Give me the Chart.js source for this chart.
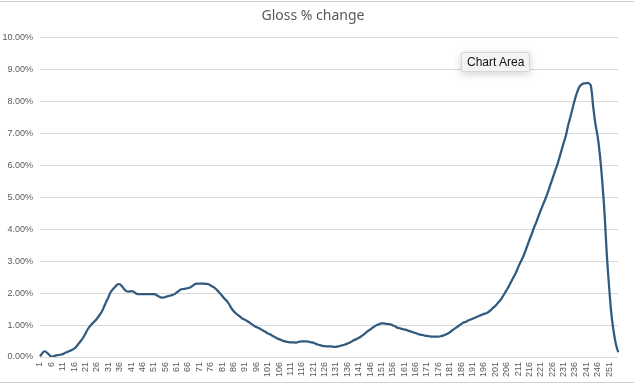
<!DOCTYPE html>
<html>
<head>
<meta charset="utf-8">
<script src="https://cdn.jsdelivr.net/npm/chart.js@4.4.1/dist/chart.umd.min.js"></script>
<style>
  html, body { margin: 0; padding: 0; background: #fff; }
  #wrap { position: relative; width: 634px; height: 384px; overflow: hidden; }
  #frame { position: absolute; left: -2px; top: 1px; width: 640px; height: 380px; border: 1px solid #cfcfcf; }
  #tip {
    position: absolute; left: 461px; top: 52px; padding: 2px 5px;
    font: 12px "Liberation Sans", Arial, sans-serif; color: #111;
    background: #f4f4f4; border: 1px solid #d6d6d6; border-radius: 2px;
    box-shadow: 0 2px 8px rgba(0,0,0,0.18);
  }
</style>
</head>
<body>
<div id="wrap">
  <div id="frame"></div>
  <canvas id="c" width="634" height="384"></canvas>
  <div id="tip">Chart Area</div>
</div>
<script>
// gloss % change (values in percent)
const glossPct = [
  0.02, 0.12, 0.18, 0.14, 0.07, 0.01, 0.02, 0.05, 0.06, 0.07,
  0.09, 0.13, 0.16, 0.19, 0.22, 0.26, 0.33, 0.42, 0.51, 0.61,
  0.74, 0.87, 0.97, 1.05, 1.12, 1.20, 1.30, 1.40, 1.55, 1.72,
  1.86, 2.03, 2.12, 2.20, 2.27, 2.28, 2.22, 2.12, 2.06, 2.05,
  2.06, 2.05, 2.00, 1.97, 1.97, 1.97, 1.97, 1.97, 1.97, 1.97,
  1.97, 1.95, 1.90, 1.87, 1.86, 1.88, 1.90, 1.92, 1.94, 1.97,
  2.02, 2.07, 2.12, 2.13, 2.14, 2.16, 2.18, 2.23, 2.28, 2.30,
  2.30, 2.30, 2.30, 2.29, 2.28, 2.24, 2.20, 2.15, 2.08, 2.00,
  1.92, 1.83, 1.76, 1.66, 1.54, 1.44, 1.37, 1.31, 1.26, 1.20,
  1.17, 1.13, 1.08, 1.03, 0.98, 0.94, 0.91, 0.87, 0.83, 0.79,
  0.74, 0.71, 0.67, 0.63, 0.59, 0.56, 0.53, 0.50, 0.48, 0.47,
  0.46, 0.46, 0.45, 0.46, 0.48, 0.49, 0.49, 0.49, 0.48, 0.46,
  0.45, 0.42, 0.39, 0.37, 0.35, 0.34, 0.33, 0.33, 0.33, 0.32,
  0.32, 0.33, 0.35, 0.37, 0.39, 0.42, 0.45, 0.49, 0.53, 0.56,
  0.60, 0.64, 0.69, 0.75, 0.81, 0.86, 0.91, 0.96, 1.00, 1.03,
  1.05, 1.05, 1.04, 1.03, 1.02, 0.99, 0.96, 0.92, 0.90, 0.88,
  0.86, 0.85, 0.82, 0.80, 0.77, 0.75, 0.72, 0.70, 0.69, 0.67,
  0.66, 0.65, 0.64, 0.64, 0.64, 0.64, 0.65, 0.67, 0.70, 0.73,
  0.77, 0.83, 0.88, 0.93, 0.98, 1.03, 1.08, 1.10, 1.14, 1.17,
  1.20, 1.23, 1.26, 1.29, 1.32, 1.35, 1.37, 1.41, 1.47, 1.54,
  1.60, 1.68, 1.76, 1.86, 1.98, 2.10, 2.22, 2.36, 2.50, 2.63,
  2.80, 2.96, 3.10, 3.28, 3.47, 3.67, 3.85, 4.05, 4.22, 4.42,
  4.60, 4.78, 4.95, 5.14, 5.35, 5.56, 5.77, 5.97, 6.20, 6.45,
  6.70, 6.93, 7.25, 7.52, 7.80, 8.08, 8.30, 8.47, 8.54, 8.57,
  8.58, 8.58, 8.50, 7.85, 7.30, 6.90, 6.30, 5.50, 4.50, 3.20,
  2.20, 1.35, 0.80, 0.40, 0.15
];
// categories 1..255
const sampleNo = [];
for (let i = 1; i <= glossPct.length; i++) sampleNo.push(String(i));
const labelEvery = 5;
const yMax = 10, yStep = 1;

const grey = '#595959';
const tickFont = { family: '"Liberation Sans", Arial, sans-serif', size: 9 };

new Chart(document.getElementById('c'), {
  type: 'line',
  data: {
    labels: sampleNo,
    datasets: [{
      label: 'Gloss % change',
      data: glossPct,
      borderColor: '#305b7f',
      borderWidth: 2.25,
      pointRadius: 0,
      tension: 0.3,
      fill: false
    }]
  },
  options: {
    responsive: false,
    animation: false,
    layout: { padding: { left: 0, right: 8, top: 0, bottom: 0 } },
    plugins: {
      legend: { display: false },
      tooltip: { enabled: false },
      title: {
        display: true,
        text: 'Gloss % change',
        color: grey,
        font: { family: '"Noto Sans", "Liberation Sans", sans-serif', size: 14, weight: 'normal' },
        padding: { top: 8, bottom: 13 }
      }
    },
    scales: {
      x: {
        offset: false,
        grid: { display: false, drawTicks: false },
        border: { display: false },
        ticks: {
          color: grey, font: tickFont, autoSkip: false,
          maxRotation: 90, minRotation: 90, padding: 5,
          callback: function(v, i) { return i % labelEvery === 0 ? this.getLabelForValue(v) : ''; }
        },
        afterFit: s => { s.height = 27; }
      },
      y: {
        min: 0, max: yMax,
        grid: { color: '#d9d9d9', lineWidth: 1, drawTicks: false },
        border: { display: false },
        ticks: {
          stepSize: yStep, color: grey, font: tickFont, padding: 7,
          callback: v => v.toFixed(2) + '%'
        },
        afterFit: s => { s.width = 40; }
      }
    }
  }
});
</script>
</body>
</html>
